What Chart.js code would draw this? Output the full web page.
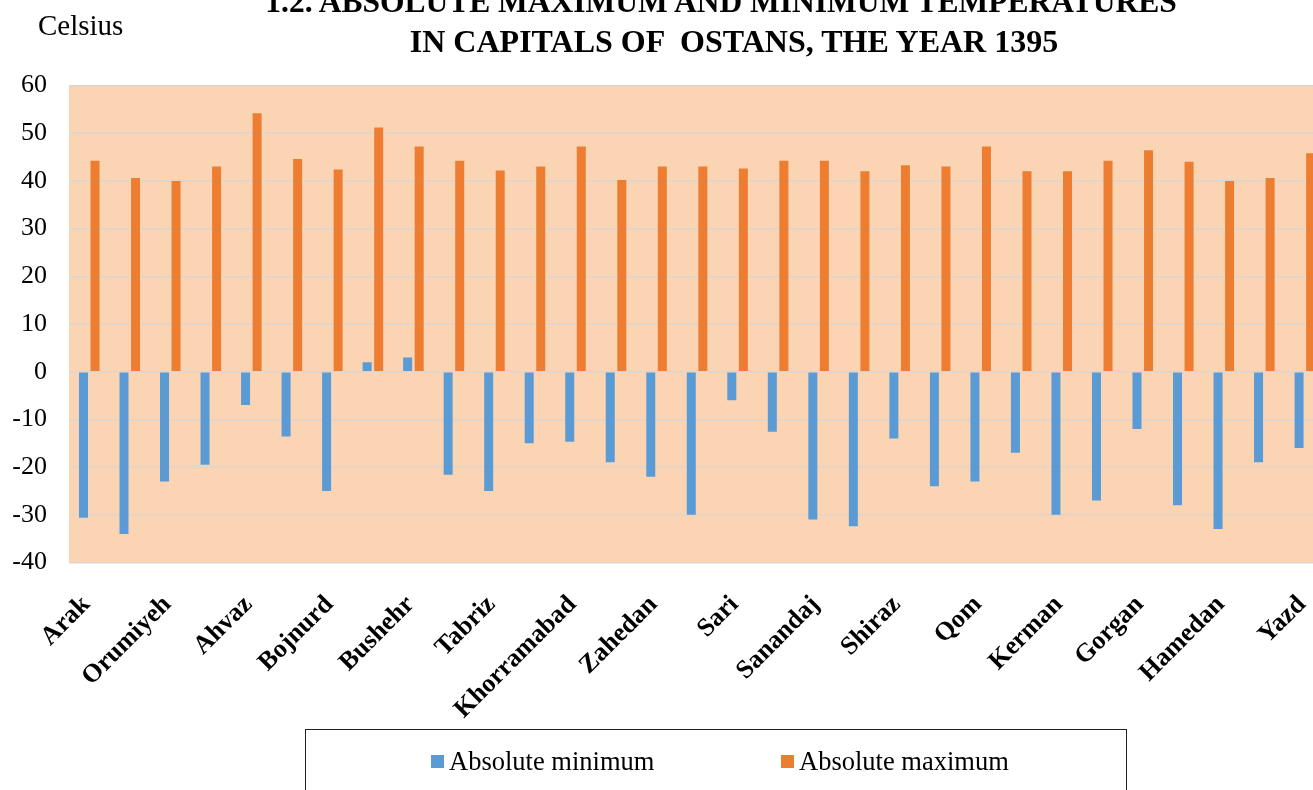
<!DOCTYPE html>
<html>
<head>
<meta charset="utf-8">
<script src="https://cdn.jsdelivr.net/npm/chart.js@4.4.1/dist/chart.umd.min.js"></script>
<style>
  html, body { margin: 0; padding: 0; background: #fff; overflow: hidden; }
  #wrap { position: relative; width: 1346px; height: 790px; overflow: hidden; }
  #chart { position: absolute; left: 0; top: 0; }
  .serif { font-family: 'Liberation Serif', 'Times New Roman', serif; color: #000; position: absolute; white-space: pre; }
  .title { font-weight: bold; font-size: 32px; line-height: 32px; text-align: center; }
  #t1 { top: -14px; left: 0; width: 1442px; font-size: 31.5px; }
  #t2 { top: 25px; left: 0; width: 1468px; }
  #unit { top: 11px; left: 38px; font-size: 29px; line-height: 29px; }
  #legendBox { position: absolute; left: 305px; top: 729px; width: 822px; height: 90px; border: 1.5px solid #222; box-sizing: border-box; }
  .item { position: absolute; top: 748px; display: flex; align-items: center; height: 26px; }
  .item i { display: inline-block; width: 13px; height: 13px; margin-right: 5px; }
  .item span { font-size: 26.5px; line-height: 26px; }
</style>
</head>
<body>
<div id="wrap">
  <canvas id="chart" width="1346" height="790"></canvas>
  <div id="t1" class="serif title">1.2. ABSOLUTE MAXIMUM AND MINIMUM TEMPERATURES</div>
  <div id="t2" class="serif title">IN CAPITALS OF  OSTANS, THE YEAR 1395</div>
  <div id="unit" class="serif">Celsius</div>
  <div id="legendBox"></div>
  <div id="leg0" class="serif item" style="left:431px"><i></i><span></span></div>
  <div id="leg1" class="serif item" style="left:781px"><i></i><span></span></div>
</div>
<script>
// --- Data ---
const cities = [
  'Arak', 'Ardabil', 'Orumiyeh', 'Esfahan', 'Ahvaz', 'Ilam', 'Bojnurd', 'Bandar Abbas',
  'Bushehr', 'Birjand', 'Tabriz', 'Tehran', 'Khorramabad', 'Rasht', 'Zahedan', 'Zanjan',
  'Sari', 'Semnan', 'Sanandaj', 'Shahrekord', 'Shiraz', 'Qazvin', 'Qom', 'Karaj',
  'Kerman', 'Kermanshah', 'Gorgan', 'Mashhad', 'Hamedan', 'Yasuj', 'Yazd'
];

const absMin = [
  -30.6, -34, -23, -19.5, -7, -13.6, -25, 2,
  3, -21.6, -25, -15, -14.7, -19, -22, -30,
  -6, -12.6, -31, -32.4, -14, -24, -23, -17,
  -30, -27, -12, -28, -33, -19, -16
];

const absMax = [
  44.2, 40.6, 40, 43, 54.2, 44.6, 42.4, 51.2,
  47.2, 44.2, 42.2, 43, 47.2, 40.2, 43, 43,
  42.6, 44.2, 44.2, 42, 43.3, 43, 47.2, 42,
  42, 44.2, 46.4, 44, 40, 40.6, 45.8
];

const seriesNames = ['Absolute minimum', 'Absolute maximum'];

const BLUE = '#5b9bd5';
const ORANGE = '#ed7d31';
const PEACH = '#fbd4b4';
const GRID = '#dcd6cf';
const FONT = "'Liberation Serif', 'Times New Roman', serif";

const $ = id => document.getElementById(id);

// --- Legend (html, boxed like the original) ---
[BLUE, ORANGE].forEach((c, i) => {
  const el = $('leg' + i);
  el.querySelector('i').style.background = c;
  el.querySelector('span').textContent = seriesNames[i];
});

// plot area fill
const plotBg = {
  id: 'plotBg',
  beforeDraw(chart) {
    const { ctx, chartArea: a } = chart;
    ctx.save();
    ctx.fillStyle = PEACH;
    ctx.fillRect(a.left, a.top, a.right - a.left, a.bottom - a.top);
    ctx.restore();
  }
};

const barOpts = { categoryPercentage: 0.57, barPercentage: 0.78, borderWidth: 0 };

new Chart($('chart').getContext('2d'), {
  type: 'bar',
  data: {
    labels: cities,
    datasets: [
      { label: seriesNames[0], data: absMin, backgroundColor: BLUE, ...barOpts },
      { label: seriesNames[1], data: absMax, backgroundColor: ORANGE, ...barOpts },
    ],
  },
  options: {
    responsive: false,
    animation: false,
    layout: { padding: { left: 0, right: 5.5, top: 85.5, bottom: 0 } },
    plugins: {
      legend: { display: false },
      tooltip: { enabled: false },
    },
    scales: {
      x: {
        grid: { display: false },
        border: { display: false },
        ticks: {
          autoSkip: false,
          minRotation: 45,
          maxRotation: 45,
          padding: 19,
          labelOffset: -3,
          color: '#000',
          font: { family: FONT, size: 26, weight: 'bold' },
          callback: (v, i) => (i % 2 === 0 ? cities[i] : ''),
        },
        afterFit: s => { s.height = 790 - 562.5; },
      },
      y: {
        min: -40,
        max: 60,
        ticks: {
          stepSize: 10,
          padding: 22,
          color: '#000',
          font: { family: FONT, size: 26 },
        },
        grid: { color: GRID, lineWidth: 1.5, drawTicks: false },
        border: { display: false },
        afterFit: s => { s.width = 69; },
      },
    },
  },
  plugins: [plotBg],
});
</script>
</body>
</html>
